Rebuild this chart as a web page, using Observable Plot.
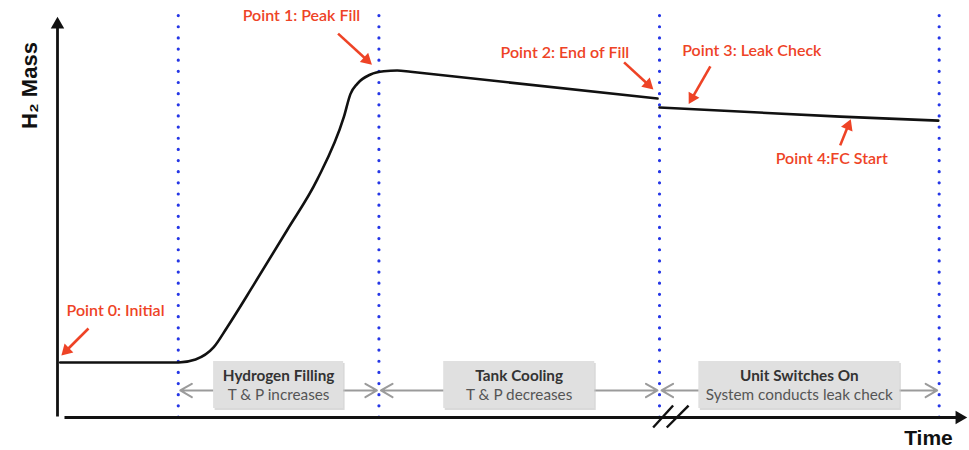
<!DOCTYPE html>
<html><head><meta charset="utf-8">
<script src="https://cdn.jsdelivr.net/npm/d3@7"></script>
<script src="https://cdn.jsdelivr.net/npm/@observablehq/plot@0.6"></script>
<style>body{margin:0;background:#fff}#chart svg{display:block}</style>
</head><body><div id="chart"></div>
<script>
// ---- data (time and H2-mass in arbitrary relative units, 0–100) ----
const phaseBounds = [13.3, 35.4, 66.3, 97.1];
const phaseTitles = ["Hydrogen Filling", "Tank Cooling", "Unit Switches On"];
const phaseNotes  = ["T & P increases", "T & P decreases", "System conducts leak check"];

const fillTime = [0.3, 13.33, 15.2, 17.21, 18.69, 21.62, 25.3, 28.6, 31.53, 32.27, 33.01, 34.47, 35.94, 37.41, 38.88, 66.08];
const fillMass = [13.8, 13.8, 14.54, 17.62, 22.63, 33.3, 47.0, 59.6, 75.26, 81.11, 83.63, 85.96, 86.79, 86.97, 86.64, 79.95];
const leakTime = [66.3, 86.2, 97.0];
const leakMass = [77.7, 75.4, 74.4];

const pointLabels = ["Point 0: Initial", "Point 1: Peak Fill", "Point 2: End of Fill", "Point 3: Leak Check", "Point 4:FC Start"];
const labelTime = [1.0, 20.4, 48.8, 68.8, 79.1];
const labelMass = [26.8, 100.75, 91.5, 92.0, 64.9];
const arrowFromTime = [3.41, 30.9, 62.4, 71.9, 86.2];
const arrowFromMass = [22.3, 96.2, 89.0, 88.0, 68.2];
const arrowToTime   = [0.55, 34.5, 65.5, 69.6, 87.3];
const arrowToMass   = [15.8, 88.7, 82.5, 78.9, 74.4];

const axisLabels = ["H₂ Mass", "Time"];

// ---- layout / style ----
const W = 969, H = 450;
const xRange = [57, 965], yRange = [417, 18];
const xs = d3.scaleLinear([0, 100], xRange), ys = d3.scaleLinear([0, 100], yRange);
const RED = "#ee4326", BLUE = "#2536e6", GREY = "#9b9b9b";
const boxWidths = [130, 151, 201];
const FONT = "Lato, 'Open Sans', sans-serif";

// helper: arrow line + filled triangular head, given tail/tip in data units
function headed(tails, tips, r) {
  const s = 1.2095 * r; // distance centre->tip of the triangle symbol
  const lines = [], heads = [];
  tails.forEach((t, i) => {
    const p = tips[i];
    const dx = xs(p[0]) - xs(t[0]), dy = ys(p[1]) - ys(t[1]);
    const L = Math.hypot(dx, dy), ux = dx / L, uy = dy / L;
    const cx = xs(p[0]) - ux * s, cy = ys(p[1]) - uy * s;
    lines.push({x1: t[0], y1: t[1], x2: xs.invert(cx), y2: ys.invert(cy)});
    heads.push({x: xs.invert(cx), y: ys.invert(cy), rot: Math.atan2(dx, -dy) * 180 / Math.PI});
  });
  return {lines, heads};
}

const fill = fillTime.map((t, i) => ({t, m: fillMass[i]}));
const leak = leakTime.map((t, i) => ({t, m: leakMass[i]}));

const red = headed(arrowFromTime.map((t, i) => [t, arrowFromMass[i]]),
                   arrowToTime.map((t, i) => [t, arrowToMass[i]]), 4.6);
const axes = headed([[0, 0.25], [0.77, 0]], [[0, 100], [100, 0]], 5);

const phases = phaseTitles.map((title, i) => {
  const a = phaseBounds[i], b = phaseBounds[i + 1], mid = (a + b) / 2;
  const half = (xs.invert(xRange[0] + boxWidths[i]) - 0) / 2;
  return {title, note: phaseNotes[i], a, b, mid, x1: mid - half, x2: mid + half};
});
const greyArrows = phases.flatMap(p => [{x1: p.mid, x2: p.a}, {x1: p.mid, x2: p.b}]);
const yArrow = 6.77, boxLo = 2.26, boxHi = 14.04, line1 = 10.3, line2 = 5.6;

const breakMarks = [{x1: 65.6, y1: -2.5, x2: 67.8, y2: 3.0}, {x1: 67.1, y1: -2.5, x2: 69.5, y2: 3.0}];

const chart = Plot.plot({
  width: W, height: H,
  marginLeft: 0, marginRight: 0, marginTop: 0, marginBottom: 0,
  x: {domain: [0, 100], range: xRange, axis: null},
  y: {domain: [0, 100], range: yRange, axis: null},
  style: {fontFamily: FONT, background: "#fff"},
  marks: [
    // dotted phase boundaries
    Plot.ruleX(phaseBounds, {y1: 0, y2: 101, stroke: BLUE, strokeWidth: 3.2, strokeDasharray: "0,11.15", strokeLinecap: "round"}),
    // axes
    Plot.link(axes.lines, {x1: "x1", y1: "y1", x2: "x2", y2: "y2", stroke: "#111", strokeWidth: 2.8}),
    Plot.dot(axes.heads, {x: "x", y: "y", rotate: "rot", symbol: "triangle", r: 5, fill: "#111", stroke: "none"}),
    Plot.link(breakMarks, {x1: "x1", y1: "y1", x2: "x2", y2: "y2", stroke: "#111", strokeWidth: 2.4}),
    // H2 mass curve
    Plot.line(fill, {x: "t", y: "m", curve: "monotone-x", stroke: "#111", strokeWidth: 2.6}),
    Plot.line(leak, {x: "t", y: "m", curve: "monotone-x", stroke: "#111", strokeWidth: 2.6}),
    // phase double arrows
    Plot.arrow(greyArrows, {x1: "x1", x2: "x2", y1: yArrow, y2: yArrow, stroke: GREY, strokeWidth: 2, headLength: 10, headAngle: 60, insetEnd: 2}),
    // boxes with shadow
    Plot.rect(phases, {x1: "x1", x2: "x2", y1: boxLo, y2: boxHi, fill: "#c9c9c9", dx: 1.5, dy: 2, fillOpacity: 0.7}),
    Plot.rect(phases, {x1: "x1", x2: "x2", y1: boxLo, y2: boxHi, fill: "#e0e0e0"}),
    Plot.text(phases, {x: "mid", y: line1, text: "title", fontWeight: "bold", fontSize: 15.3, fill: "#333"}),
    Plot.text(phases, {x: "mid", y: line2, text: "note", fontSize: 15.3, fill: "#555"}),
    // red annotations
    Plot.link(red.lines, {x1: "x1", y1: "y1", x2: "x2", y2: "y2", stroke: RED, strokeWidth: 2.6}),
    Plot.dot(red.heads, {x: "x", y: "y", rotate: "rot", symbol: "triangle", r: 4.6, fill: RED, stroke: "none"}),
    Plot.text(pointLabels, {x: (d, i) => labelTime[i], y: (d, i) => labelMass[i], text: d => d, textAnchor: "start", fill: RED, fontWeight: 600, fontSize: 16}),
    // axis titles
    Plot.text([axisLabels[0]], {x: -2.3, y: 83.2, text: d => d, rotate: -90, lineAnchor: "bottom", fontFamily: "'Liberation Sans', Arial, sans-serif", fontWeight: "bold", fontSize: 22, fill: "#111"}),
    Plot.text([axisLabels[1]], {x: 98.6, y: -5.2, text: d => d, textAnchor: "end", fontFamily: "'Liberation Sans', Arial, sans-serif", fontWeight: "bold", fontSize: 21, fill: "#111"})
  ]
});
document.getElementById("chart").appendChild(chart);
</script>
</body></html>
